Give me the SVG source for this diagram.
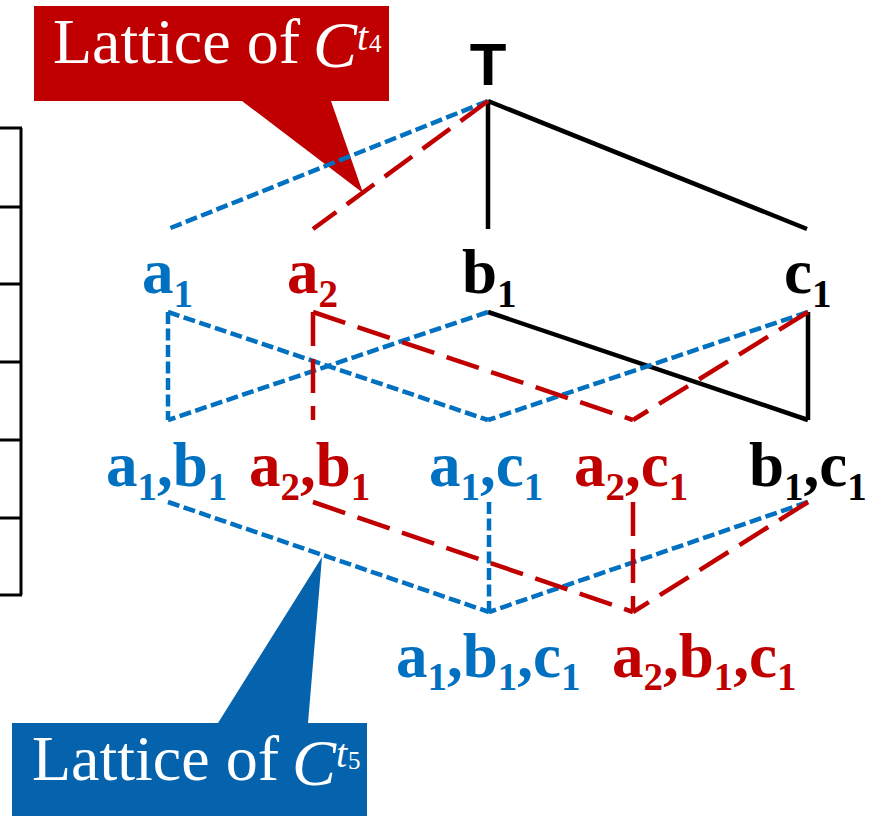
<svg xmlns="http://www.w3.org/2000/svg" width="880" height="816" viewBox="0 0 880 816">
<style>
.lbl{font-weight:bold;font-size:63px}
.sub{font-size:39px}
.blue{fill:#0070C0}
.red{fill:#C00000}
.blk{fill:#000}
.bl{stroke:#0070C0;stroke-width:4.5;stroke-dasharray:12 4.5;fill:none}
.rd{stroke:#C00000;stroke-width:4.5;stroke-dasharray:34 13;fill:none}
.k{stroke:#000;stroke-width:4.5;fill:none}
.call{fill:#fff}
.cm{font-size:64px}
.cc{font-size:66px;font-style:italic}
.ct{font-size:40px;font-style:italic}
.cn{font-size:25px}
.tbl{stroke:#000;stroke-width:3;fill:none}
</style>
<rect width="880" height="816" fill="#fff"/>
<g id="table">
<path class="tbl" d="M21,128V595M0,128H22M0,207H22M0,284H22M0,362H22M0,440H22M0,518H22M0,595H22"/>
</g>
<g id="callout-t4" font-family="Liberation Serif, Times New Roman, serif">
<path d="M34,6H389V101H331L363,193L242,101H34Z" fill="#C00000"/>
<text class="call cm" x="53" y="63">Lattice of</text>
<text class="call cc" x="313" y="67">C</text>
<text class="call ct" x="357" y="50">t</text>
<text class="call cn" x="369" y="52">4</text>
</g>
<g id="callout-t5" font-family="Liberation Serif, Times New Roman, serif">
<path d="M12,723H218L322,557L308,723H367V816H12Z" fill="#0563AE"/>
<text class="call cm" x="32" y="780">Lattice of</text>
<text class="call cc" x="292" y="785">C</text>
<text class="call ct" x="336" y="767">t</text>
<text class="call cn" x="348" y="769">5</text>
</g>
<g id="connectors">
<path class="k" d="M488,101V229M488,101L807,229M488,312L808,420M808,312V420"/>
<path class="bl" d="M488,101L168,229"/>
<path class="rd" d="M488,101L313,229"/>
<path class="bl" d="M168,312V420M168,312L488,420M488,312L168,420M808,312L488,420"/>
<path class="rd" d="M313,312V420M313,312L633,420M808,312L633,420"/>
<path class="bl" d="M168,502L489,612M489,502V612M808,502L489,612"/>
<path class="rd" d="M313,502L633,612M633,502V612M808,502L633,612"/>
</g>
<g id="node-T"><text x="488" y="85" text-anchor="middle" font-family="Liberation Sans, Arial, sans-serif" font-weight="bold" font-size="60">T</text></g>
<g font-family="Liberation Serif, Times New Roman, serif">
<g id="node-a1"><text class="lbl blue" x="142" y="293">a<tspan class="sub" y="307">1</tspan></text></g>
<g id="node-a2"><text class="lbl red" x="287" y="293">a<tspan class="sub" y="307">2</tspan></text></g>
<g id="node-b1"><text class="lbl blk" x="462" y="293">b<tspan class="sub" y="307">1</tspan></text></g>
<g id="node-c1"><text class="lbl blk" x="784" y="293">c<tspan class="sub" y="307">1</tspan></text></g>
<g id="node-a1b1"><text class="lbl blue" x="106" y="486">a<tspan class="sub" y="500">1</tspan><tspan y="486">,b</tspan><tspan class="sub" y="500">1</tspan></text></g>
<g id="node-a2b1"><text class="lbl red" x="249" y="486">a<tspan class="sub" y="500">2</tspan><tspan y="486">,b</tspan><tspan class="sub" y="500">1</tspan></text></g>
<g id="node-a1c1"><text class="lbl blue" x="429" y="486">a<tspan class="sub" y="500">1</tspan><tspan y="486">,c</tspan><tspan class="sub" y="500">1</tspan></text></g>
<g id="node-a2c1"><text class="lbl red" x="574" y="486">a<tspan class="sub" y="500">2</tspan><tspan y="486">,c</tspan><tspan class="sub" y="500">1</tspan></text></g>
<g id="node-b1c1"><text class="lbl blk" x="749" y="486">b<tspan class="sub" y="500">1</tspan><tspan y="486">,c</tspan><tspan class="sub" y="500">1</tspan></text></g>
<g id="node-a1b1c1"><text class="lbl blue" x="396" y="677">a<tspan class="sub" y="690">1</tspan><tspan y="677">,b</tspan><tspan class="sub" y="690">1</tspan><tspan y="677">,c</tspan><tspan class="sub" y="690">1</tspan></text></g>
<g id="node-a2b1c1"><text class="lbl red" x="612" y="677">a<tspan class="sub" y="690">2</tspan><tspan y="677">,b</tspan><tspan class="sub" y="690">1</tspan><tspan y="677">,c</tspan><tspan class="sub" y="690">1</tspan></text></g>
</g>
</svg>
